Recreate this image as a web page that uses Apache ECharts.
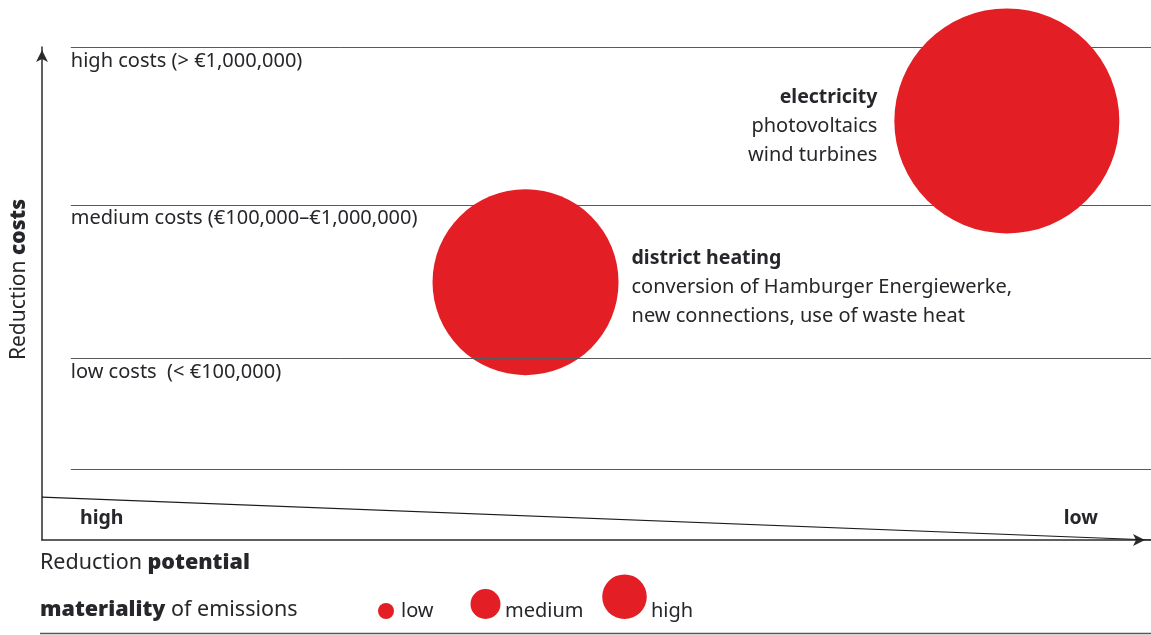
<!DOCTYPE html>
<html>
<head>
<meta charset="utf-8">
<script src="https://cdn.jsdelivr.net/npm/echarts@6/dist/echarts.min.js"></script>
<style>
  html, body { margin: 0; padding: 0; background: #fff; }
  #chart { width: 1151px; height: 635px; }
</style>
</head>
<body>
<div id="chart"></div>
<script>
// Cost bands (top to bottom) and the level each band's upper line sits at
const costBands = ['high costs (> €1,000,000)', 'medium costs (€100,000–€1,000,000)', 'low costs  (< €100,000)', ''];
const costBandLevels = [100, 68, 36.9, 14.4];

// Reduction measures: potential (x, high→low), cost level (y), materiality of emissions
const measureNames = ['district heating', 'electricity'];
const measureDetails = [
  ['conversion of Hamburger Energiewerke,', 'new connections, use of waste heat'],
  ['photovoltaics', 'wind turbines']
];
const potential = [43.6, 87.0];
const cost = [52.3, 85.0];
const materiality = [3.1, 3.75];

// Wedge showing the reduction potential falling from high to low
const potentialWedge = [[0, 8.7], [100, 0]];

const potentialEnds = ['high', 'low'];
const materialityLegend = ['low', 'medium', 'high'];

const RED = '#E31E24';
const INK = '#26262b';
const FONT = '"Noto Sans", "Open Sans", sans-serif';

const chart = echarts.init(document.getElementById('chart'), null, { renderer: 'canvas' });

const bubbleData = measureNames.map((name, i) => {
  const right = i === 0;
  return {
    name: name,
    value: [potential[i], cost[i], materiality[i]],
    label: {
      show: true,
      position: right ? 'right' : 'left',
      distance: right ? 13 : 17,
      align: right ? 'left' : 'right',
      offset: [0, 5],
      formatter: '{b|' + name + '}\n' + measureDetails[i].map(t => '{t|' + t + '}').join('\n'),
      rich: {
        b: { fontFamily: FONT, fontSize: 19.5, fontWeight: 'bold', color: INK, lineHeight: 29 },
        t: { fontFamily: FONT, fontSize: 20, color: INK, lineHeight: 29 }
      }
    }
  };
});

const bandLines = costBands.map((label, i) => [
  {
    coord: [2.6, costBandLevels[i]],
    label: { formatter: label }
  },
  { coord: [100, costBandLevels[i]] }
]);

const legendSizes = [8, 15, 22.3];
const legendCx = [386, 485.5, 624.5];
const legendTextX = [401, 505, 651];
const legendGraphics = [];
materialityLegend.forEach((name, i) => {
  legendGraphics.push({
    type: 'circle',
    shape: { cx: legendCx[i], cy: 619 - legendSizes[i], r: legendSizes[i] },
    style: { fill: RED }
  });
  legendGraphics.push({
    type: 'text',
    x: legendTextX[i], y: 611,
    style: { text: name, fontFamily: FONT, fontSize: 20, fill: INK, textVerticalAlign: 'middle' }
  });
});

chart.setOption({
  animation: false,
  backgroundColor: '#fff',
  grid: { left: 42, right: 0, top: 47, bottom: 95, containLabel: false },
  xAxis: {
    type: 'value', min: 0, max: 100,
    axisLine: {
      show: true, onZero: false,
      symbol: ['none', 'arrow'], symbolSize: [9, 12], symbolOffset: [0, -6],
      lineStyle: { color: '#2b2b2b', width: 1.5 }
    },
    axisTick: { show: false }, axisLabel: { show: false }, splitLine: { show: false }
  },
  yAxis: {
    type: 'value', min: 0, max: 100,
    axisLine: {
      show: true, onZero: false,
      symbol: ['none', 'arrow'], symbolSize: [9, 12], symbolOffset: [0, -3],
      lineStyle: { color: '#2b2b2b', width: 1.5 }
    },
    axisTick: { show: false }, axisLabel: { show: false }, splitLine: { show: false }
  },
  series: [
    {
      type: 'line',
      data: potentialWedge,
      symbol: 'none',
      silent: true,
      lineStyle: { color: '#1a1a1a', width: 1.2 },
      z: 1
    },
    {
      type: 'scatter',
      data: bubbleData,
      symbolSize: v => v[2] * 60,
      itemStyle: { color: RED, opacity: 1 },
      z: 3,
      markLine: {
        silent: true,
        symbol: 'none',
        lineStyle: { color: '#5a5a5a', width: 1, type: 'solid' },
        label: {
          show: true,
          position: 'insideStartBottom',
          distance: [0, 4],
          fontFamily: FONT, fontSize: 20, color: INK
        },
        data: bandLines
      }
    }
  ],
  graphic: [
    {
      // Vertical axis title
      type: 'text', x: 19, y: 279.5, rotation: Math.PI / 2,
      style: {
        text: '{r|Reduction }{c|costs}',
        textAlign: 'center', textVerticalAlign: 'middle',
        rich: {
          r: { fontFamily: FONT, fontSize: 21, fill: INK, color: INK },
          c: { fontFamily: FONT, fontSize: 21, fontWeight: 900, fill: INK, color: INK }
        }
      }
    },
    {
      type: 'text', x: 80, y: 518,
      style: { text: potentialEnds[0], fontFamily: FONT, fontSize: 19.5, fontWeight: 'bold', fill: INK, textVerticalAlign: 'middle' }
    },
    {
      type: 'text', x: 1098, y: 518,
      style: { text: potentialEnds[1], fontFamily: FONT, fontSize: 19.5, fontWeight: 'bold', fill: INK, textAlign: 'right', textVerticalAlign: 'middle' }
    },
    {
      type: 'text', x: 40, y: 563,
      style: {
        text: '{r|Reduction }{p|potential}',
        textVerticalAlign: 'middle',
        rich: {
          r: { fontFamily: FONT, fontSize: 21.5, fill: INK, color: INK },
          p: { fontFamily: FONT, fontSize: 21.5, fontWeight: 900, fill: INK, color: INK }
        }
      }
    },
    {
      type: 'text', x: 40, y: 610,
      style: {
        text: '{m|materiality}{r| of emissions}',
        textVerticalAlign: 'middle',
        rich: {
          m: { fontFamily: FONT, fontSize: 21.5, fontWeight: 900, fill: INK, color: INK },
          r: { fontFamily: FONT, fontSize: 21.5, fill: INK, color: INK }
        }
      }
    },
    {
      type: 'line',
      shape: { x1: 40, y1: 633.5, x2: 1151, y2: 633.5 },
      style: { stroke: '#555', lineWidth: 1.5 }
    }
  ].concat(legendGraphics)
});
</script>
</body>
</html>
